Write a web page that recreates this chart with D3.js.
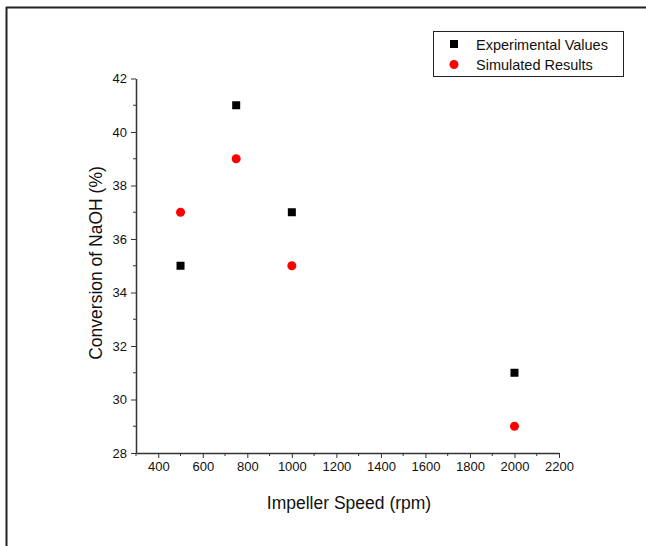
<!DOCTYPE html>
<html>
<head>
<meta charset="utf-8">
<script src="https://cdn.jsdelivr.net/npm/d3@7"></script>
<style>
body { margin: 0; background: #fff; }
text { font-family: "Liberation Sans", Arial, sans-serif; }
</style>
</head>
<body>
<script>
// data
var speeds = [500, 750, 1000, 2000];
var experimental = [35, 41, 37, 31];
var simulated = [37, 39, 35, 29];
var xTicks = [400, 600, 800, 1000, 1200, 1400, 1600, 1800, 2000, 2200];
var yTicks = [28, 30, 32, 34, 36, 38, 40, 42];

var width = 646, height = 546;

var svg = d3.select('body').append('svg')
    .attr('width', width)
    .attr('height', height);

// outer frame (only top and left edges visible)
svg.append('line').attr('x1', 6).attr('y1', 7.5).attr('x2', width).attr('y2', 7.5)
    .style('stroke', '#222').style('stroke-width', 2);
svg.append('line').attr('x1', 6.5).attr('y1', 7).attr('x2', 6.5).attr('y2', height)
    .style('stroke', '#222').style('stroke-width', 2);

var x = d3.scaleLinear().domain([300, 2200]).range([136, 559]);
var y = d3.scaleLinear().domain([28, 42]).range([453, 78.5]);

// minor ticks
var xMinor = d3.range(300, 2201, 100).filter(function(v){ return xTicks.indexOf(v) < 0; });
var yMinor = d3.range(29, 42, 2);

var xAxis = svg.append('g')
    .attr('transform', 'translate(0,453)')
    .call(d3.axisBottom(x).tickValues(xTicks).tickSize(5).tickSizeOuter(0).tickPadding(4).tickFormat(d3.format('d')));
xAxis.selectAll('line.minor')
    .data(xMinor).enter().append('line')
    .attr('x1', function(d){ return x(d); }).attr('x2', function(d){ return x(d); })
    .attr('y1', 0).attr('y2', 3).style('stroke', '#333');

var yAxis = svg.append('g')
    .attr('transform', 'translate(136,0)')
    .call(d3.axisLeft(y).tickValues(yTicks).tickSize(5).tickSizeOuter(0).tickPadding(4));
yAxis.selectAll('line.minor')
    .data(yMinor).enter().append('line')
    .attr('y1', function(d){ return y(d); }).attr('y2', function(d){ return y(d); })
    .attr('x1', 0).attr('x2', -3).style('stroke', '#333');

svg.selectAll('.domain').style('stroke', '#333').style('stroke-width', 1.5);
svg.selectAll('.tick line').style('stroke', '#333');
svg.selectAll('.tick text').attr('font-size', 13).attr('fill', '#111')
    .style('font-family', '"Liberation Sans", Arial, sans-serif');

// axis titles
svg.append('text')
    .attr('x', 349).attr('y', 509)
    .attr('text-anchor', 'middle')
    .attr('font-size', 17.5).attr('fill', '#111')
    .text('Impeller Speed (rpm)');

svg.append('text')
    .attr('transform', 'translate(102,263) rotate(-90)')
    .attr('text-anchor', 'middle')
    .attr('font-size', 17.5).attr('fill', '#111')
    .text('Conversion of NaOH (%)');

// points
svg.selectAll('rect.exp')
    .data(speeds).enter().append('rect')
    .attr('class', 'exp')
    .attr('x', function(d){ return x(d) - 4; })
    .attr('y', function(d, i){ return y(experimental[i]) - 4; })
    .attr('width', 8).attr('height', 8)
    .style('fill', 'black');

svg.selectAll('circle.sim')
    .data(speeds).enter().append('circle')
    .attr('class', 'sim')
    .attr('cx', function(d){ return x(d); })
    .attr('cy', function(d, i){ return y(simulated[i]); })
    .attr('r', 4.5)
    .style('fill', 'red');

// legend
var legend = svg.append('g');
legend.append('rect')
    .attr('x', 433.5).attr('y', 31.5).attr('width', 190).attr('height', 45)
    .style('fill', 'white').style('stroke', '#222');
legend.append('rect')
    .attr('x', 450).attr('y', 40).attr('width', 8).attr('height', 8).style('fill', 'black');
legend.append('circle')
    .attr('cx', 454).attr('cy', 64.5).attr('r', 4.5).style('fill', 'red');
legend.append('text')
    .attr('x', 476).attr('y', 49.5).attr('font-size', 14.5).attr('fill', '#111')
    .text('Experimental Values');
legend.append('text')
    .attr('x', 476).attr('y', 70).attr('font-size', 14.5).attr('fill', '#111')
    .text('Simulated Results');
</script>
</body>
</html>
